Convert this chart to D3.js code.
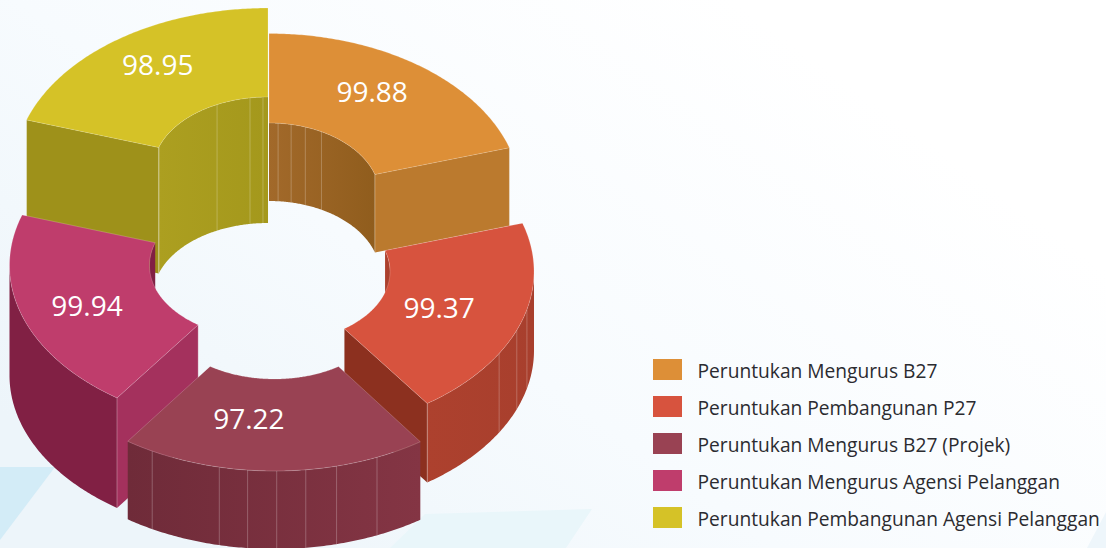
<!DOCTYPE html>
<html>
<head>
<meta charset="utf-8">
<script src="https://cdn.jsdelivr.net/npm/d3@7"></script>
<style>
html,body{margin:0;padding:0;background:#fff;}
svg{display:block;}
text{font-family:"Open Sans",sans-serif;}
</style>
</head>
<body>
<div id="chart"></div>
<script>
// ---- data ----
const categories = [
  "Peruntukan Mengurus B27",
  "Peruntukan Pembangunan P27",
  "Peruntukan Mengurus B27 (Projek)",
  "Peruntukan Mengurus Agensi Pelanggan",
  "Peruntukan Pembangunan Agensi Pelanggan"
];
const values = [99.88, 99.37, 97.22, 99.94, 98.95];

// ---- styles ----
const topColors  = ["#dd8f37", "#d7533e", "#994253", "#bf3d6c", "#d5c227"];
const cutColors  = ["#bb7a2e", "#8c301f", "#8c301f", "#a4315d", "#9e911a"];
const wallLeft   = ["#a2692a", "#ad412e", "#6f2b39", "#812044", "#ac9f20"];
const wallRight  = ["#905d1d", "#a83f2d", "#843544", "#812044", "#a4981c"];

// ---- layout of each exploded slice (projected ellipses) ----
const centerX = [269, 282, 274.5, 265.5, 268];
const centerY = [196.5, 271.5, 311, 265.4, 170.3];
const depth   = [78, 79, 78, 110, 126];
const outerRx = [252, 252, 253, 256, 254];
const outerRy = [163, 161.5, 160, 162.7, 162.3];
const innerRx = [111, 108, 111, 116, 115];
const innerRy = [73.5, 70, 68, 73, 73.3];
// paint order, back to front (indexes into the series)
const drawOrder = [4, 0, 1, 3, 2];
// wall seams, in degrees round the ring
const seams = [
  [4.7, 11.5, 19.1, 28.2],
  [103.6, 111.3, 120.5],
  [156.1, 165.8, 172.9, 179.5, 186.1, 192.6, 208.9],
  [],
  [288.6, 333.7, 351, 357.5]
];
const labelAngle = [32.2, 109.4, 188.6, 250.6, 326.5];
const labelFrac  = [0.768, 0.661, 0.676, 0.739, 0.786];

const W = 1106, H = 548;
const svg = d3.select("#chart").append("svg").attr("width", W).attr("height", H);
const defs = svg.append("defs");

// ---- background ----
const bg = defs.append("linearGradient").attr("id", "bg")
  .attr("x1", 0).attr("y1", 0.75).attr("x2", 0.8).attr("y2", 0.2);
bg.append("stop").attr("offset", 0).attr("stop-color", "#edf5fa");
bg.append("stop").attr("offset", 0.45).attr("stop-color", "#f7fbfe");
bg.append("stop").attr("offset", 1).attr("stop-color", "#ffffff");
svg.append("rect").attr("width", W).attr("height", H).attr("fill", "url(#bg)");
const deco = [
  {pts: [[0,467],[55,467],[0,540]], fill: "#d3ecf7"},
  {pts: [[390,548],[425,514],[592,509],[566,548]], fill: "#e9f6fa"},
  {pts: [[1087,548],[1106,512],[1106,548]], fill: "#eef6fb"}
];
svg.selectAll("polygon.deco").data(deco).join("polygon")
  .attr("class", "deco")
  .attr("points", d => d.pts.map(p => p.join(",")).join(" "))
  .attr("fill", d => d.fill);

// ---- slices ----
const pie = d3.pie().sort(null).startAngle(0).endAngle(2 * Math.PI);
const arcs = pie(values);
const line = d3.line();
const HALF = Math.PI / 2;

function pt(i, outer, a, dz) {
  const rx = outer ? outerRx[i] : innerRx[i], ry = outer ? outerRy[i] : innerRy[i];
  return [centerX[i] + rx * Math.sin(a), centerY[i] - ry * Math.cos(a) + (dz || 0)];
}
function arcPts(i, outer, a0, a1, dz) {
  const n = Math.max(2, Math.ceil(Math.abs(a1 - a0) / 0.01));
  return d3.range(n + 1).map(k => pt(i, outer, a0 + (a1 - a0) * k / n, dz));
}
function visibleRange(a0, a1, outer) {
  const ranges = outer ? [[HALF, 3 * HALF]] : [[-HALF, HALF], [3 * HALF, 5 * HALF]];
  for (const [lo, hi] of ranges) {
    const s = Math.max(a0, lo), e = Math.min(a1, hi);
    if (e > s) return [s, e];
  }
  return null;
}

drawOrder.forEach(i => {
  const arc = arcs[i];
  const g = svg.append("g").attr("class", "slice");
  const a0 = arc.startAngle, a1 = arc.endAngle, dz = depth[i];
  const edge = "rgba(255,255,255,0.38)";

  const grad = defs.append("linearGradient").attr("id", "wall" + i);
  grad.append("stop").attr("offset", 0).attr("stop-color", wallLeft[i]);
  grad.append("stop").attr("offset", 1).attr("stop-color", wallRight[i]);

  [false, true].forEach(outer => {
    const r = visibleRange(a0, a1, outer);
    if (!r) return;
    const top = arcPts(i, outer, r[0], r[1], 0), bot = arcPts(i, outer, r[1], r[0], dz);
    g.append("path").attr("d", line(top.concat(bot)) + "Z").attr("fill", "url(#wall" + i + ")");
    seams[i].forEach(deg => {
      const a = deg * Math.PI / 180;
      if (a < r[0] || a > r[1]) return;
      g.append("path").attr("d", line([pt(i, outer, a, 0), pt(i, outer, a, dz)]))
        .attr("stroke", "rgba(255,255,255,0.3)").attr("stroke-width", 0.8).attr("fill", "none");
    });
  });

  // Cut faces that look towards the viewer
  [[a0, a0 - HALF], [a1, a1 + HALF]].forEach(([a, normal]) => {
    if (Math.cos(normal) >= -1e-6) return;
    const p = [pt(i, true, a, 0), pt(i, false, a, 0), pt(i, false, a, dz), pt(i, true, a, dz)];
    g.append("path").attr("d", line(p) + "Z").attr("fill", cutColors[i]);
    g.append("path").attr("d", line([p[0], p[3]])).attr("stroke", edge).attr("stroke-width", 0.8);
    g.append("path").attr("d", line([p[1], p[2]])).attr("stroke", edge).attr("stroke-width", 0.8);
  });

  // Top face
  const topPts = arcPts(i, true, a0, a1).concat(arcPts(i, false, a1, a0));
  g.append("path").attr("d", line(topPts) + "Z")
    .attr("fill", topColors[i]).attr("stroke", edge).attr("stroke-width", 0.5);
});

// ---- value labels, on top of every slice ----
svg.selectAll("text.value").data(arcs).join("text")
  .attr("class", "value")
  .attr("x", (d, i) => centerX[i] + labelFrac[i] * outerRx[i] * Math.sin(labelAngle[i] * Math.PI / 180))
  .attr("y", (d, i) => centerY[i] - labelFrac[i] * outerRy[i] * Math.cos(labelAngle[i] * Math.PI / 180))
  .attr("text-anchor", "middle").attr("dominant-baseline", "central")
  .attr("font-size", 28).attr("fill", "#fff")
  .text(d => d.value.toFixed(2));

// ---- legend ----
const legendY = d3.scalePoint().domain(categories).range([369.5, 517.5]);
const legend = svg.selectAll("g.legend").data(categories).join("g")
  .attr("class", "legend")
  .attr("transform", d => `translate(653,${legendY(d)})`);
legend.append("rect").attr("x", 0).attr("y", -10.5).attr("width", 29).attr("height", 21)
  .attr("fill", (d, i) => topColors[i]);
legend.append("text").attr("x", 44.5).attr("y", 8)
  .attr("font-size", 19.2).attr("fill", "#2b2b30")
  .text(d => d);
</script>
</body>
</html>
